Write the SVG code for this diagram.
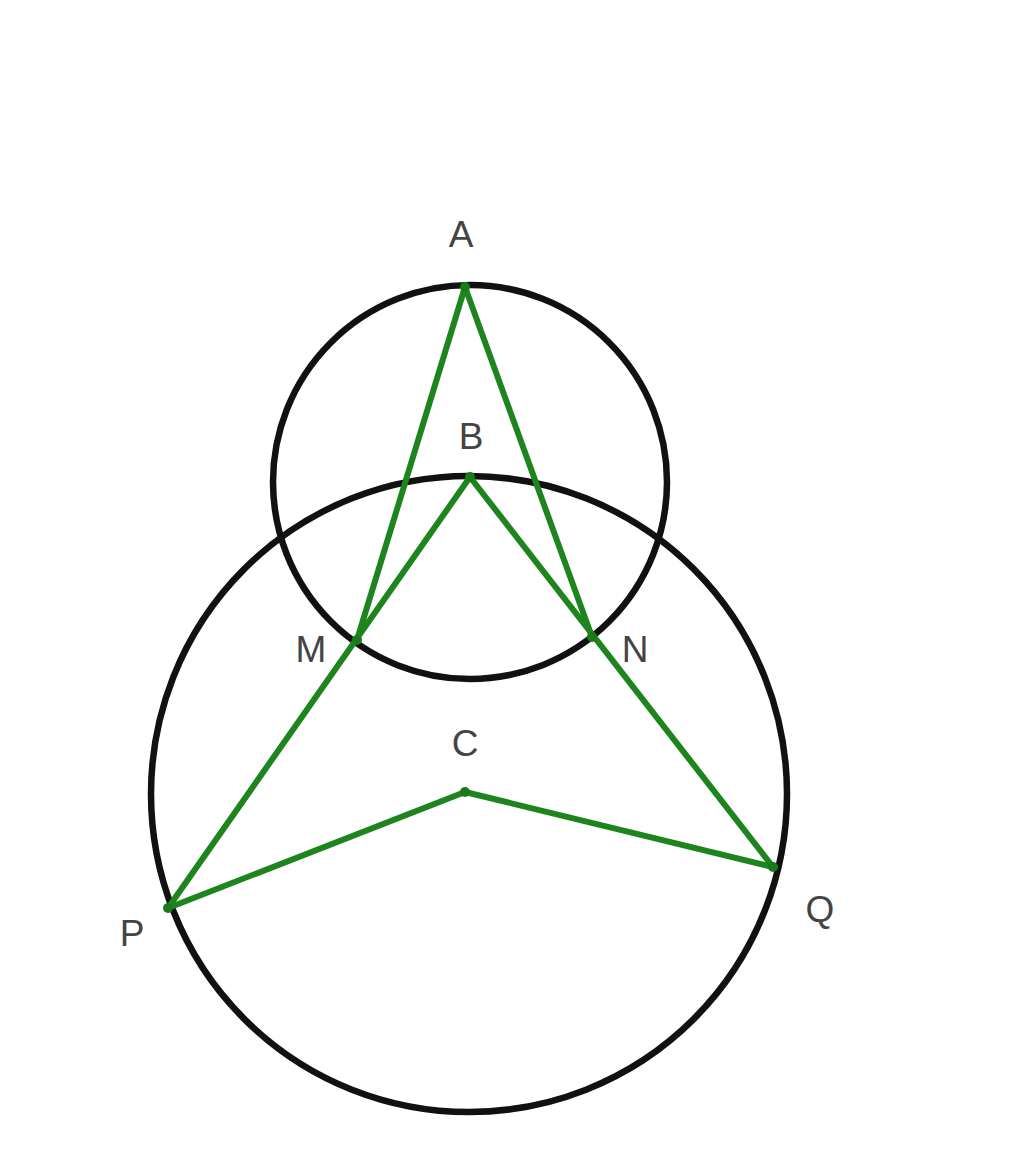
<svg xmlns="http://www.w3.org/2000/svg" width="1024" height="1151" viewBox="0 0 1024 1151">
<style>
.circ{fill:none;stroke:#111;stroke-width:6.5}
.seg{stroke:#1e851e;stroke-width:6;fill:none;stroke-linecap:round;stroke-linejoin:round}
.pt{fill:#1a7a1a}
.lbl{font-family:"Liberation Sans",Arial,sans-serif;font-size:37px;fill:#444;text-anchor:middle}
</style>
<rect width="1024" height="1151" fill="#fff"/>
<g id="circles">
<circle id="small-circle" class="circ" cx="470" cy="482" r="197"/>
<circle id="big-circle" class="circ" cx="469" cy="794" r="318"/>
</g>
<g id="connectors">
<polyline class="seg" points="357,640 465,287 592,637"/>
<polyline class="seg" points="168,908 470,477 773,867"/>
<polyline class="seg" points="168,908 465,792 773,867"/>
</g>
<g id="A"><circle class="pt" cx="465" cy="287" r="5"/><text class="lbl" x="461" y="247">A</text></g>
<g id="B"><circle class="pt" cx="470" cy="477" r="5"/><text class="lbl" x="471" y="449">B</text></g>
<g id="C"><circle class="pt" cx="465" cy="792" r="5"/><text class="lbl" x="465" y="756">C</text></g>
<g id="M"><circle class="pt" cx="357" cy="640" r="5"/><text class="lbl" x="311" y="662">M</text></g>
<g id="N"><circle class="pt" cx="592" cy="637" r="5"/><text class="lbl" x="635" y="662">N</text></g>
<g id="P"><circle class="pt" cx="168" cy="908" r="5"/><text class="lbl" x="132" y="946">P</text></g>
<g id="Q"><circle class="pt" cx="773" cy="867" r="5"/><text class="lbl" x="820" y="922">Q</text></g>
</svg>
